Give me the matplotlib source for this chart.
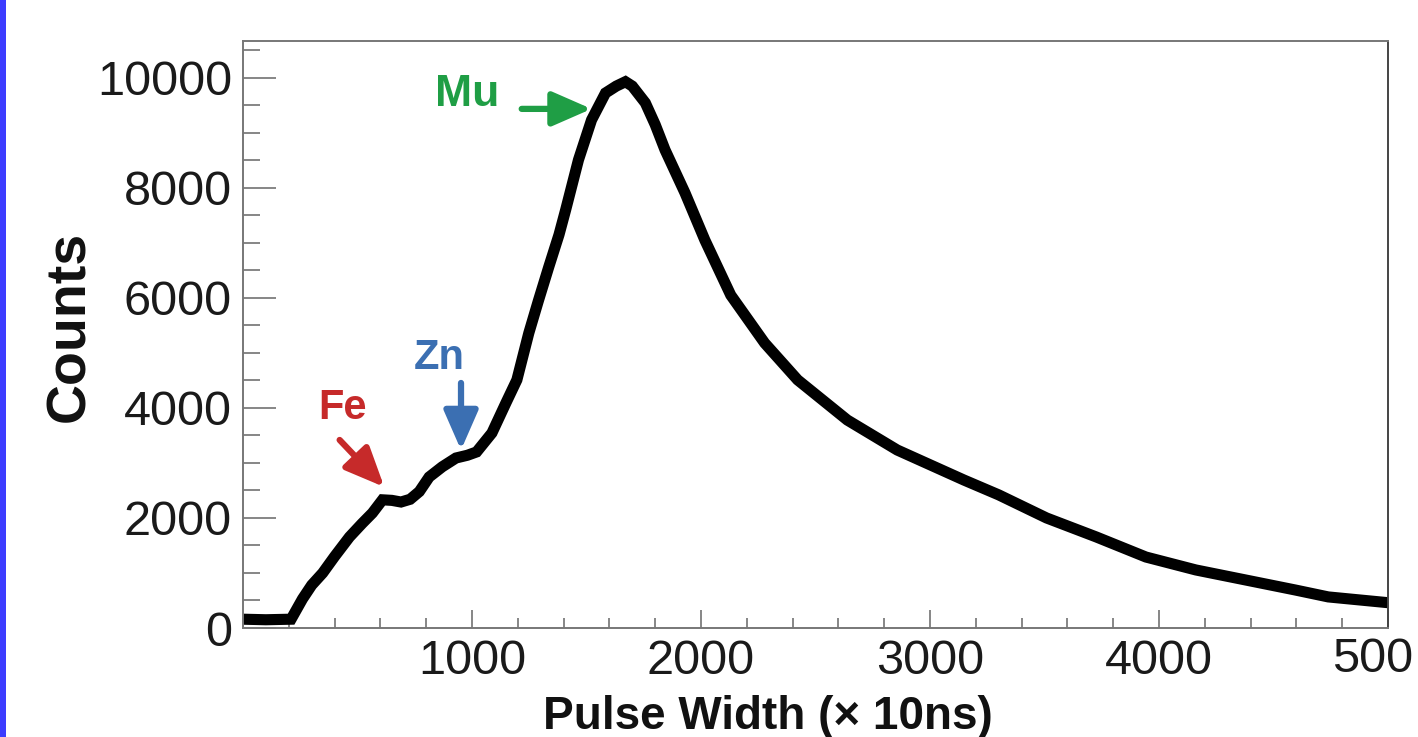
import matplotlib
matplotlib.use("Agg")
import matplotlib.pyplot as plt
from matplotlib.patches import Rectangle
from matplotlib.ticker import MultipleLocator, FixedLocator

# ---- data ----
pulse_width = [0, 100, 210, 260, 300, 348, 400, 465, 520, 565, 609, 650, 690, 730,
               770, 813, 870, 930, 980, 1020, 1087, 1148, 1196, 1248, 1290, 1335,
               1380, 1409, 1465, 1522, 1583, 1630, 1670, 1700, 1757, 1800, 1843,
               1930, 2017, 2130, 2278, 2422, 2639, 2857, 3148, 3300, 3509, 3726,
               3943, 4161, 4378, 4596, 4739, 5000]
counts = [160, 150, 160, 530, 780, 1000, 1300, 1655, 1900, 2090, 2330, 2320, 2290,
          2340, 2480, 2745, 2930, 3090, 3140, 3200, 3545, 4090, 4510, 5360, 5950,
          6560, 7150, 7600, 8510, 9235, 9725, 9850, 9930, 9850, 9545, 9150, 8690,
          7910, 7050, 6050, 5180, 4510, 3780, 3235, 2690, 2420, 2000, 1655, 1290,
          1055, 873, 690, 565, 460]

x_ticks = [1000, 2000, 3000, 4000, 5000]
x_tick_labels = ["1000", "2000", "3000", "4000", ""]
last_x_label = "500"   # the reference shows the last label cropped to "500"
y_ticks = [0, 2000, 4000, 6000, 8000, 10000]
y_tick_labels = ["0", "2000", "4000", "6000", "8000", "10000"]

peak_labels = ["Mu", "Fe", "Zn"]
peak_colors = ["#1f9e45", "#c62a2a", "#3b6fb2"]

plt.rcParams['font.family'] = ['Liberation Sans', 'DejaVu Sans']

fig = plt.figure(figsize=(14.18, 7.37), dpi=100)
fig.patch.set_facecolor("white")
# blue strip on left edge
fig.patches.append(Rectangle((0, 0), 6 / 1418, 1, transform=fig.transFigure,
                             facecolor="#3c3cff", edgecolor="none"))

ax = fig.add_axes([243 / 1418, 1 - 628 / 737, (1388 - 243) / 1418, (628 - 41) / 737])
ax.plot(pulse_width, counts, color="black", lw=8, solid_joinstyle="miter",
        solid_capstyle="butt")
ax.set_xlim(0, 5000)
ax.set_ylim(0, 10670)

for s in ax.spines.values():
    s.set_color("#777777")
    s.set_linewidth(1.4)
ax.spines["right"].set_color("#444444")

ax.xaxis.set_major_locator(FixedLocator(x_ticks))
ax.set_xticklabels(x_tick_labels)
ax.xaxis.set_minor_locator(MultipleLocator(200))
ax.yaxis.set_major_locator(FixedLocator(y_ticks))
ax.set_yticklabels(y_tick_labels)
ax.yaxis.set_minor_locator(MultipleLocator(500))

ax.tick_params(axis="x", which="major", direction="in", length=13, width=1.1,
               color="#666666", labelsize=35, pad=8, labelcolor="#1a1a1a")
ax.tick_params(axis="x", which="minor", direction="in", length=7, width=1.1,
               color="#666666")
ax.tick_params(axis="y", which="major", direction="in", length=24, width=1.1,
               color="#666666", labelsize=35, pad=8, labelcolor="#1a1a1a")
ax.tick_params(axis="y", which="minor", direction="in", length=12, width=1.1,
               color="#666666")
ax.tick_params(top=False, right=False)

# cropped last tick label as in the reference
ax.annotate(last_x_label, xy=(5000, 0), xycoords=("data", "axes fraction"),
            xytext=(25, -9), textcoords="offset pixels", ha="right", va="top",
            fontsize=35, color="#1a1a1a", annotation_clip=False)

ax.set_xlabel("Pulse Width (× 10ns)", fontsize=33, fontweight="bold",
              color="#111111")
ax.set_ylabel("Counts", fontsize=40, fontweight="bold", color="#111111")
ax.xaxis.set_label_coords(0.458, -0.114)
ax.yaxis.set_label_coords(-0.128, 0.513)

# annotations
arrow_style = "-|>,head_length=2.4,head_width=1.05"
ax.text(978, 9690, peak_labels[0], color=peak_colors[0], fontsize=32,
        fontweight="bold", ha="center", va="center")
ax.annotate("", xy=(1522, 9436), xytext=(1217, 9436),
            arrowprops=dict(arrowstyle=arrow_style, color=peak_colors[0], lw=4.5,
                            shrinkA=0, shrinkB=0))
ax.text(435, 4000, peak_labels[1], color=peak_colors[1], fontsize=30,
        fontweight="bold", ha="center", va="center")
ax.annotate("", xy=(617, 2563), xytext=(422, 3418),
            arrowprops=dict(arrowstyle=arrow_style, color=peak_colors[1], lw=4.5,
                            shrinkA=0, shrinkB=0))
ax.text(857, 4909, peak_labels[2], color=peak_colors[2], fontsize=30,
        fontweight="bold", ha="center", va="center")
ax.annotate("", xy=(952, 3236), xytext=(952, 4454),
            arrowprops=dict(arrowstyle=arrow_style, color=peak_colors[2], lw=4.5,
                            shrinkA=0, shrinkB=0))

fig.savefig("out.png", dpi=100)
